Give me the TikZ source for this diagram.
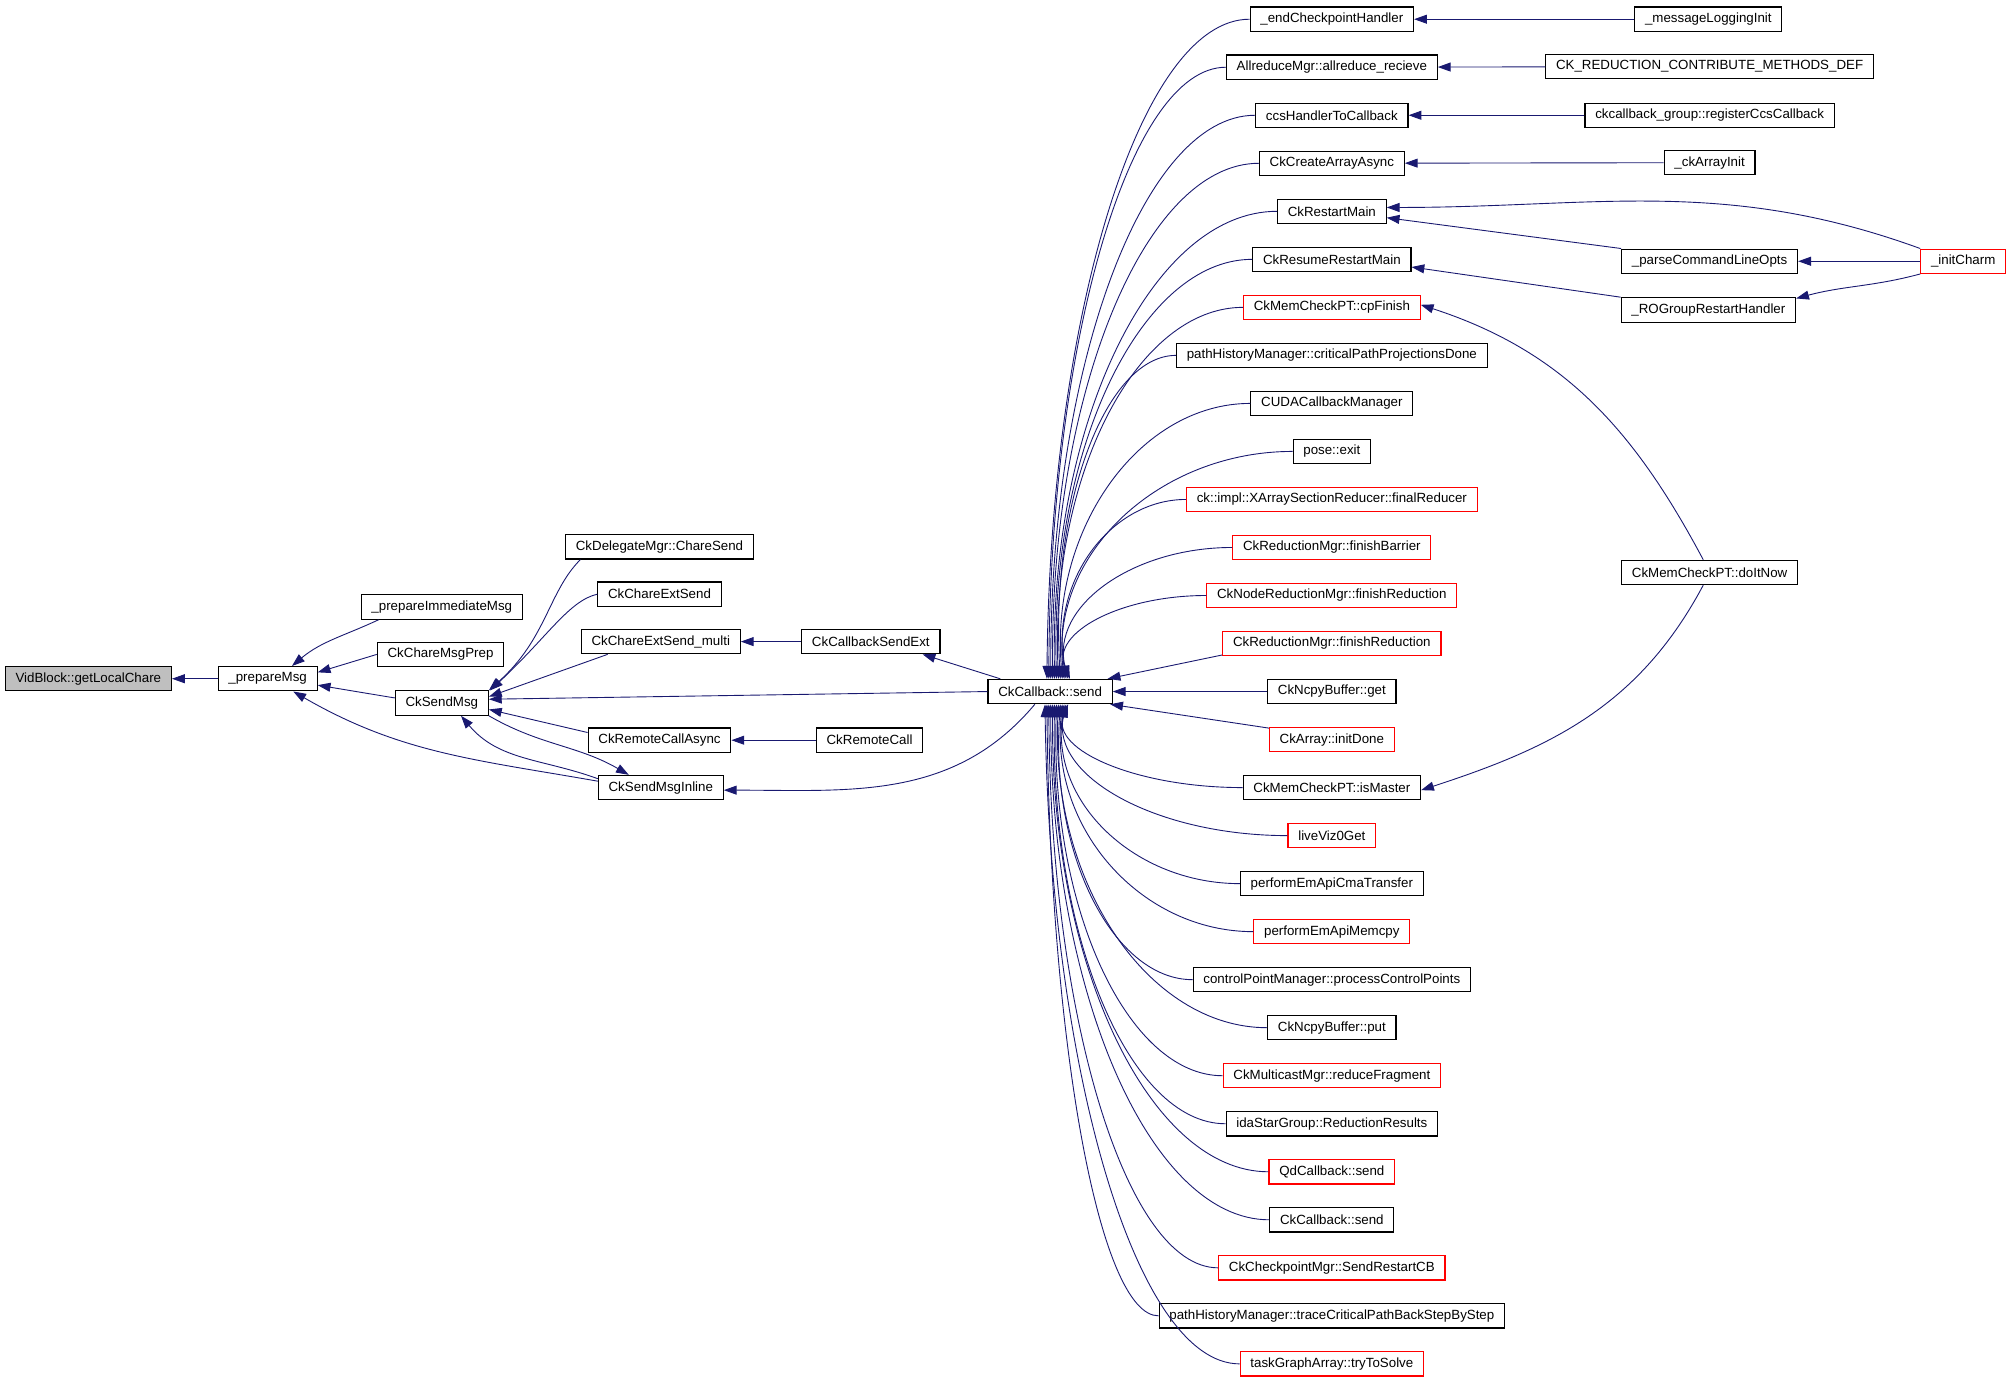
\documentclass[tikz,border=0pt]{standalone}
\usepackage{fontspec}
\setmainfont{Liberation Sans}
\usetikzlibrary{arrows.meta,calc}
\definecolor{edgeblue}{RGB}{25,25,112}
\definecolor{rootgray}{RGB}{191,191,191}
\tikzset{>={Triangle[length=10pt,width=7pt]}}

\begin{document}
\begin{tikzpicture}[x=1pt,y=1pt,
  fn/.style={draw=black, line width=0.9pt, font=\fontsize{10.4}{12}\selectfont,
    inner xsep=8pt, inner ysep=0pt, minimum height=19pt},
  fnred/.style={fn, draw=red},
  call/.style={->, draw=edgeblue, line width=0.7pt}]
\useasboundingbox (0,0) rectangle (1568,-1077);

% left part of the graph
\node[fn, fill=rootgray] (root) at (69,-530) {VidBlock::getLocalChare};
\node[fn] (pm) at (209,-530) {\_prepareMsg};
\node[fn] (pim) at (345,-474) {\_prepareImmediateMsg};
\node[fn] (cmp) at (344,-511) {CkChareMsgPrep};
\node[fn] (sm) at (345,-549) {CkSendMsg};
\node[fn] (dms) at (515,-427) {CkDelegateMgr::ChareSend};
\node[fn] (ces) at (515,-464) {CkChareExtSend};
\node[fn] (cesm) at (516,-501) {CkChareExtSend\_multi};
\node[fn] (rca) at (515,-578) {CkRemoteCallAsync};
\node[fn] (smi) at (516,-615) {CkSendMsgInline};
\node[fn] (cse) at (680,-501) {CkCallbackSendExt};
\node[fn] (rc) at (679,-578) {CkRemoteCall};
\node[fn] (cb) at (820,-540) {CkCallback::send};

% callers of CkCallback::send
\foreach \i/\lbl/\col in {
  1/\_endCheckpointHandler/black,
  2/AllreduceMgr::allreduce\_recieve/black,
  3/ccsHandlerToCallback/black,
  4/CkCreateArrayAsync/black,
  5/CkRestartMain/black,
  6/CkResumeRestartMain/black,
  7/CkMemCheckPT::cpFinish/red,
  8/pathHistoryManager::criticalPathProjectionsDone/black,
  9/CUDACallbackManager/black,
  10/pose::exit/black,
  11/ck::impl::XArraySectionReducer::finalReducer/red,
  12/CkReductionMgr::finishBarrier/red,
  13/CkNodeReductionMgr::finishReduction/red,
  14/CkReductionMgr::finishReduction/red,
  15/CkNcpyBuffer::get/black,
  16/CkArray::initDone/red,
  17/CkMemCheckPT::isMaster/black,
  18/liveViz0Get/red,
  19/performEmApiCmaTransfer/black,
  20/performEmApiMemcpy/red,
  21/controlPointManager::processControlPoints/black,
  22/CkNcpyBuffer::put/black,
  23/CkMulticastMgr::reduceFragment/red,
  24/idaStarGroup::ReductionResults/black,
  25/QdCallback::send/red,
  26/CkCallback::send/black,
  27/CkCheckpointMgr::SendRestartCB/red,
  28/pathHistoryManager::traceCriticalPathBackStepByStep/black,
  29/taskGraphArray::tryToSolve/red}{
\node[fn, draw=\col] (s\i) at (1040,{-15-37.5*(\i-1)}) {\lbl};
}

% right part
\node[fn] (mli) at (1334,-15) {\_messageLoggingInit};
\node[fn] (crd) at (1335,-52) {CK\_REDUCTION\_CONTRIBUTE\_METHODS\_DEF};
\node[fn] (rcc) at (1335,-90) {ckcallback\_group::registerCcsCallback};
\node[fn] (cai) at (1335,-127) {\_ckArrayInit};
\node[fn] (pclo) at (1335,-204) {\_parseCommandLineOpts};
\node[fn] (rogr) at (1334,-242) {\_ROGroupRestartHandler};
\node[fn] (din) at (1335,-447) {CkMemCheckPT::doItNow};
\node[fnred] (ic) at (1533,-204) {\_initCharm};

% edges, left
\draw[call] (pm) -- (root);
\draw[call] ($(pim.south west)+(14,0)$) to[out=205,in=40] ($(pm.north)+(19,0)$);
\draw[call] (cmp.west) -- ($(pm.east)+(0,5)$);
\draw[call] ($(sm.west)+(0,4)$) -- ($(pm.east)+(0,-5)$);
\draw[call] ($(smi.west)+(0,5)$) to[out=170,in=-30] ($(pm.south)+(20,0)$);
\draw[call] ($(dms.south west)+(12,0)$) .. controls +(-25,-25) and +(45,40) .. (sm.north east);
\draw[call] (ces.west) .. controls +(-22,-5) and +(45,42) .. ($(sm.north east)+(1,0)$);
\draw[call] ($(cesm.south west)+(21,0)$) -- ($(sm.east)+(0,5)$);
\draw[call] (cb.west) -- ($(sm.east)+(0,3)$);
\draw[call] ($(rca.west)+(0,6)$) -- ($(sm.east)+(0,-5)$);
\draw[call] (sm.south east) to[out=-30,in=150] ($(smi.north)+(-25,0)$);
\draw[call] ($(smi.north west)+(0,-3)$) to[out=160,in=-50] ($(sm.south)+(15,0)$);
\draw[call] (cse) -- (cesm);
\draw[call] (rc) -- (rca);
\draw[call] ($(cb.north west)+(10,0)$) -- ($(cse.south east)+(-14,0)$);
\draw[call] ($(cb.south west)+(37,0)$) to[out=-130,in=0] ($(smi.east)+(0,-2)$);

% fan into CkCallback::send
\foreach \i in {1,...,13}{
\draw[call] (s\i.west) .. controls ($(s\i.west)!0.55!(s\i.west -| cb.north)$)
  and ($(cb.north)!0.55!(cb.north |- s\i.west)$) .. ($(cb.north)+(\i*1.5-4,0)$);
}
\draw[call] ($(s14.south west)+(0,1)$) -- ($(cb.north east)+(-4,0)$);
\draw[call] (s15) -- (cb);
\draw[call] ($(s16.north west)+(0,-1)$) -- ($(cb.south east)+(-2,0)$);
\foreach \i in {17,...,29}{
\draw[call] (s\i.west) .. controls ($(s\i.west)!0.55!(s\i.west -| cb.south)$)
  and ($(cb.south)!0.55!(cb.south |- s\i.west)$) .. ($(cb.south)+({(29-\i)*1.5-4},0)$);
}

% edges, right
\draw[call] (mli) -- (s1);
\draw[call] (crd) -- (s2);
\draw[call] (rcc) -- (s3);
\draw[call] (cai) -- (s4);
\draw[call] (ic.north west) to[out=160,in=0] ($(s5.east)+(0,3)$);
\draw[call] (pclo.north west) -- ($(s5.east)+(0,-5)$);
\draw[call] (rogr.north west) -- ($(s6.east)+(0,-6)$);
\draw[call] (ic) -- (pclo);
\draw[call] (ic.south west) to[out=195,in=15] ($(rogr.north east)+(0,-1)$);
\draw[call] ($(din.north)+(-5,0)$) to[out=118,in=-18] ($(s7.east)+(0,2)$);
\draw[call] ($(din.south)+(-5,0)$) to[out=-118,in=18] ($(s17.east)+(0,-2)$);
\end{tikzpicture}
\end{document}
